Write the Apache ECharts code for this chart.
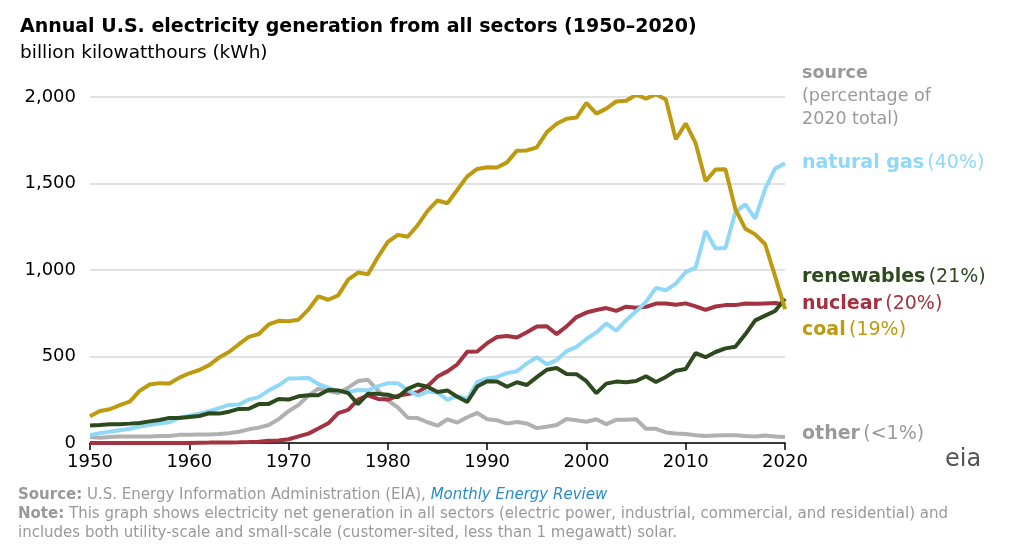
<!DOCTYPE html>
<html>
<head>
<meta charset="utf-8">
<script src="https://cdn.jsdelivr.net/npm/echarts@6/dist/echarts.min.js"></script>
<style>
  html,body{margin:0;padding:0;background:#fff;}
  #chart{width:1036px;height:547px;}
</style>
</head>
<body>
<div id="chart"></div>
<script>
// years 1950..2020
var years = [];
for (var y = 1950; y <= 2020; y++) years.push(y);

var coal = [154,185,195,219,239,301,338,346,344,378,403,422,450,494,526,571,613,630,685,706,
  704,713,771,848,828,853,944,985,976,1075,1162,1203,1192,1259,1342,1402,1386,1464,1541,1584,
  1594,1592,1622,1690,1691,1709,1796,1845,1874,1881,1966,1904,1933,1974,1978,2013,1991,2016,1986,1756,
  1847,1733,1514,1581,1582,1352,1239,1206,1149,965,774];
var naturalGas = [45,57,65,74,82,95,104,114,120,147,158,170,184,202,220,222,251,265,304,333,
  373,374,376,341,320,300,295,306,305,329,346,346,305,274,297,292,249,273,253,352,
  373,382,404,415,460,496,455,479,531,556,601,639,691,650,710,761,816,897,883,921,
  988,1014,1226,1124,1127,1335,1379,1297,1469,1586,1617];
var nuclear = [0,0,0,0,0,0,0,0,0.2,0.2,0.5,1.7,2.3,3.2,3.3,3.7,5.5,7.7,12.5,13.9,
  21.8,38.1,54.1,83.5,114,173,191,251,276,255,251,273,283,294,328,384,414,455,527,529,
  577,613,619,610,640,673,675,629,674,728,754,769,780,764,788,782,787,806,806,799,
  807,790,769,789,797,797,806,805,807,809,800];
var renewables = [101,104,109,109,112,116,125,133,145,144,150,156,172,170,181,197,198,225,226,254,
  251,270,276,276,306,304,289,224,285,284,279,264,313,338,325,295,304,267,237,326,
  357,355,325,351,335,381,423,433,399,398,357,288,343,355,351,358,386,353,382,418,
  428,520,496,526,547,556,628,709,736,763,834];
var other = [34,30,34,38,37,37,38,40,41,47,48,49,49,52,57,65,79,89,104,138,
  184,220,274,314,301,289,320,358,365,304,246,206,146,144,120,100,137,118,149,174,
  137,131,112,121,113,86,94,104,139,131,123,137,109,134,135,137,82,82,61,55,
  52,45,40,44,45,45,40,38,43,37,34];

var seriesDefs = [
  {name:'other', data:other, color:'#b0b0b0'},
  {name:'nuclear', data:nuclear, color:'#a33340'},
  {name:'natural gas', data:naturalGas, color:'#8fd8f8'},
  {name:'renewables', data:renewables, color:'#2d4a1e'},
  {name:'coal', data:coal, color:'#bd9a10'}
];

function pairs(arr){ return arr.map(function(v,i){ return [years[i], v]; }); }

var font = '"DejaVu Sans", Verdana, sans-serif';
var myChart = echarts.init(document.getElementById('chart'));

function endText(x, y, name, pct, color, pctColor){
  return {type:'text', left:x, top:y, style:{
    text:'{b|'+name+'} {p|'+pct+'}',
    rich:{
      b:{fontWeight:'bold', fontSize:19, fill:color, fontFamily:font},
      p:{fontSize:19, fill:pctColor||color, fontFamily:font}
    }}};
}

myChart.setOption({
  animation:false,
  grid:{left:90, right:251, top:97, bottom:104},
  xAxis:{type:'value', min:1950, max:2020, interval:10,
    axisLine:{lineStyle:{color:'#000', width:1.5}},
    axisTick:{show:true, length:7, lineStyle:{color:'#000', width:1.5}},
    axisLabel:{color:'#000', fontSize:18, fontFamily:font, margin:10,
      formatter:function(v){ return String(v); }},
    splitLine:{show:false}},
  yAxis:{type:'value', min:0, max:2000, interval:500,
    axisLine:{show:false}, axisTick:{show:false},
    axisLabel:{color:'#000', fontSize:18, fontFamily:font, margin:14,
      formatter:function(v){ return v.toLocaleString('en-US'); }},
    splitLine:{lineStyle:{color:'#d9d9d9', width:1.5}}},
  series: seriesDefs.map(function(s){
    return {type:'line', name:s.name, data:pairs(s.data), showSymbol:false,
      lineStyle:{color:s.color, width:4}, itemStyle:{color:s.color}};
  }),
  graphic:[
    {type:'text', left:20, top:18, style:{text:'Annual U.S. electricity generation from all sectors (1950\u20132020)',
      fontWeight:'bold', fontSize:19, fill:'#000', fontFamily:font}},
    {type:'text', left:20, top:44, style:{text:'billion kilowatthours (kWh)',
      fontSize:18.5, fill:'#000', fontFamily:font}},
    {type:'text', left:802, top:62, style:{text:'{b|source}\n(percentage of\n2020 total)',
      fontSize:17.5, fill:'#999', lineHeight:23, fontFamily:font,
      rich:{b:{fontWeight:'bold', fontSize:17.5, fill:'#999', fontFamily:font}}}},
    endText(802, 154, 'natural gas', '(40%)', '#8fd8f8'),
    endText(802, 268, 'renewables', '(21%)', '#2d4a1e'),
    endText(802, 295, 'nuclear', '(20%)', '#a33340'),
    endText(802, 321, 'coal', '(19%)', '#bd9a10'),
    endText(802, 425, 'other', '(<1%)', '#999'),
    {type:'text', left:945, top:448, style:{text:'eia', fontSize:24, fill:'#555', fontFamily:font}},
    {type:'text', left:18, top:486, style:{
      text:'{b|Source:} U.S. Energy Information Administration (EIA), {i|Monthly Energy Review}\n{b|Note:} This graph shows electricity net generation in all sectors (electric power, industrial, commercial, and residential) and\nincludes both utility-scale and small-scale (customer-sited, less than 1 megawatt) solar.',
      fontSize:15, fill:'#999', lineHeight:19, fontFamily:font,
      rich:{
        b:{fontWeight:'bold', fontSize:15, fill:'#999', fontFamily:font},
        i:{fontStyle:'italic', fontSize:15, fill:'#2a8cc8', fontFamily:font}
      }}}
  ]
});
</script>
</body>
</html>
